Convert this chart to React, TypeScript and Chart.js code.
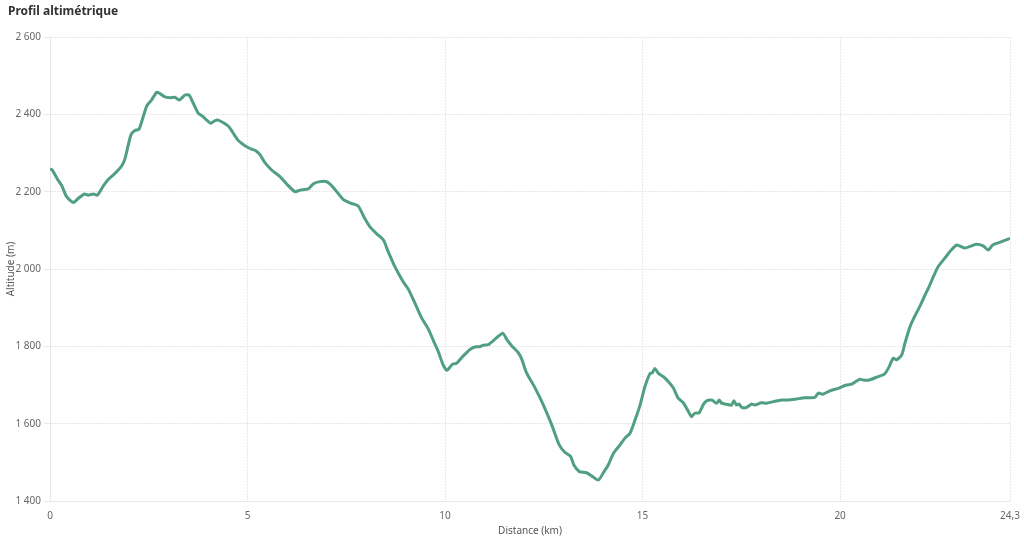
import React, { useEffect, useRef } from "react";
import { Chart, registerables } from "chart.js";

Chart.register(...registerables);

const chartTitle = "Profil altimétrique";
const xAxisTitle = "Distance (km)";
const yAxisTitle = "Altitude (m)";

const distanceKm = [
  0.0, 0.06, 0.19, 0.3, 0.42, 0.59, 0.72, 0.87, 0.97, 1.1, 1.2, 1.35, 1.48, 1.6, 1.71, 1.83, 1.9, 1.97,
  2.05, 2.15, 2.25, 2.32, 2.45, 2.57, 2.7, 2.78, 2.89, 3.04, 3.16, 3.27, 3.42, 3.52, 3.63, 3.75, 3.85,
  3.97, 4.07, 4.18, 4.26, 4.39, 4.53, 4.64, 4.77, 4.89, 4.98, 5.1, 5.21, 5.32, 5.44, 5.61, 5.82, 5.99,
  6.2, 6.33, 6.54, 6.66, 6.83, 7.0, 7.17, 7.42, 7.59, 7.8, 7.95, 8.1, 8.27, 8.44, 8.56, 8.73, 8.94,
  9.07, 9.24, 9.41, 9.58, 9.7, 9.83, 9.95, 10.05, 10.19, 10.29, 10.44, 10.63, 10.78, 10.88, 10.97,
  11.09, 11.26, 11.46, 11.56, 11.69, 11.85, 11.94, 12.06, 12.28, 12.49, 12.7, 12.89, 13.03, 13.18,
  13.26, 13.4, 13.58, 13.71, 13.88, 14.0, 14.13, 14.26, 14.43, 14.55, 14.68, 14.81, 14.93, 15.06,
  15.19, 15.25, 15.31, 15.4, 15.52, 15.65, 15.78, 15.9, 16.03, 16.14, 16.24, 16.32, 16.43, 16.54,
  16.62, 16.75, 16.87, 16.94, 17.0, 17.13, 17.25, 17.31, 17.38, 17.44, 17.51, 17.63, 17.76, 17.84,
  18.01, 18.14, 18.31, 18.52, 18.69, 18.9, 19.11, 19.36, 19.45, 19.56, 19.74, 19.97, 20.16, 20.29,
  20.5, 20.58, 20.74, 20.92, 21.13, 21.24, 21.34, 21.43, 21.56, 21.64, 21.77, 21.89, 22.02, 22.15,
  22.25, 22.36, 22.48, 22.65, 22.78, 22.95, 23.16, 23.33, 23.45, 23.62, 23.75, 23.86, 24.04, 24.3,
];

const altitudeM = [
  2259, 2256, 2232, 2215, 2187, 2172, 2183, 2194, 2191, 2194, 2191, 2215, 2232, 2243, 2254, 2269, 2286, 2316,
  2347, 2358, 2361, 2381, 2422, 2437, 2457, 2454, 2446, 2443, 2444, 2437, 2450, 2450, 2428, 2403, 2396,
  2385, 2377, 2384, 2385, 2378, 2368, 2351, 2332, 2322, 2316, 2310, 2306, 2295, 2275, 2256, 2239, 2220,
  2200, 2204, 2207, 2220, 2226, 2226, 2211, 2180, 2171, 2163, 2134, 2109, 2091, 2075, 2045, 2006, 1967,
  1948, 1911, 1873, 1844, 1816, 1786, 1752, 1738, 1754, 1756, 1773, 1792, 1799, 1799, 1803,
  1804, 1818, 1834, 1818, 1801, 1784, 1767, 1732, 1692, 1648, 1597, 1545, 1526, 1515,
  1493, 1476, 1473, 1465, 1454, 1472, 1493, 1523, 1545, 1562, 1575, 1610, 1646, 1696,
  1730, 1732, 1743, 1730, 1722, 1709, 1692, 1666, 1654, 1635, 1618, 1627, 1628, 1650,
  1659, 1661, 1653, 1661, 1653, 1650, 1648, 1659, 1648, 1651, 1642, 1642, 1651, 1648,
  1654, 1653, 1657, 1661, 1661, 1664, 1667, 1668, 1679, 1676, 1685, 1692, 1700, 1702,
  1715, 1713, 1713, 1720, 1729, 1747, 1769, 1765, 1778, 1808, 1851, 1878, 1904, 1933,
  1954, 1980, 2006, 2028, 2045, 2062, 2054, 2060, 2064, 2060, 2049, 2062, 2069, 2079,
];

const xTickValues = [0, 5, 10, 15, 20, 24.3];
const yTickValues = [1400, 1600, 1800, 2000, 2200, 2400, 2600];

const formatThousands = (v: number) => {
  const s = String(Math.round(v));
  return s.replace(/\B(?=(\d{3})+(?!\d))/g, " ");
};

export default function App() {
  const canvasRef = useRef<HTMLCanvasElement | null>(null);

  useEffect(() => {
    if (!canvasRef.current) return;
    const font = "'Noto Sans', 'Open Sans', sans-serif";
    const gridColor = "#e8e8e8";
    const chart = new Chart(canvasRef.current, {
      type: "line",
      data: {
        datasets: [
          {
            label: yAxisTitle,
            data: distanceKm.map((d, i) => ({ x: d, y: altitudeM[i] })),
            borderColor: "#4f9f80",
            borderWidth: 3,
            pointRadius: 0,
            tension: 0.2,
            fill: false,
          },
        ],
      },
      options: {
        animation: false,
        responsive: false,
        layout: { padding: { left: 8, right: 14, top: 0, bottom: 10 } },
        plugins: {
          legend: { display: false },
          tooltip: { enabled: false },
          title: {
            display: true,
            text: chartTitle,
            align: "start",
            color: "#333333",
            font: { family: font, size: 12, weight: "bold" },
            padding: { top: 4, bottom: 18.6 },
          },
        },
        scales: {
          x: {
            type: "linear",
            min: 0,
            max: 24.3,
            afterBuildTicks: (scale: any) => {
              scale.ticks = xTickValues.map((v) => ({ value: v }));
            },
            afterFit: (scale: any) => {
              scale.height = 36;
              scale.paddingLeft = 0;
              scale.paddingRight = 0;
            },
            ticks: {
              color: "#666666",
              font: { family: font, size: 10 },
              padding: 9,
              maxRotation: 0,
              autoSkip: false,
              callback: (v: any) => String(v).replace(".", ","),
            },
            grid: { color: gridColor, drawTicks: false, lineWidth: 1 },
            border: { display: true, color: gridColor, dash: [2, 1] },
            title: {
              display: true,
              text: xAxisTitle,
              color: "#555555",
              font: { family: font, size: 10 },
              padding: { top: 4, bottom: 0 },
            },
          },
          y: {
            type: "linear",
            min: 1400,
            max: 2600,
            afterBuildTicks: (scale: any) => {
              scale.ticks = yTickValues.map((v) => ({ value: v }));
            },
            afterFit: (scale: any) => {
              scale.width = 42;
            },
            ticks: {
              color: "#666666",
              font: { family: font, size: 10 },
              padding: 3,
              callback: (v: any) => formatThousands(Number(v)),
            },
            grid: { color: gridColor, drawTicks: true, tickLength: 6, lineWidth: 1 },
            border: { display: true, color: gridColor, dash: [2, 1] },
            title: {
              display: true,
              text: yAxisTitle,
              color: "#555555",
              font: { family: font, size: 10 },
              padding: { top: -3, bottom: 5 },
            },
          },
        },
      },
    });
    return () => chart.destroy();
  }, []);

  return (
    <div style={{ position: "absolute", left: 0, top: 0, width: 1024, height: 547, background: "#ffffff" }}>
      <canvas ref={canvasRef} width={1024} height={547} style={{ width: 1024, height: 547, display: "block" }} />
    </div>
  );
}
